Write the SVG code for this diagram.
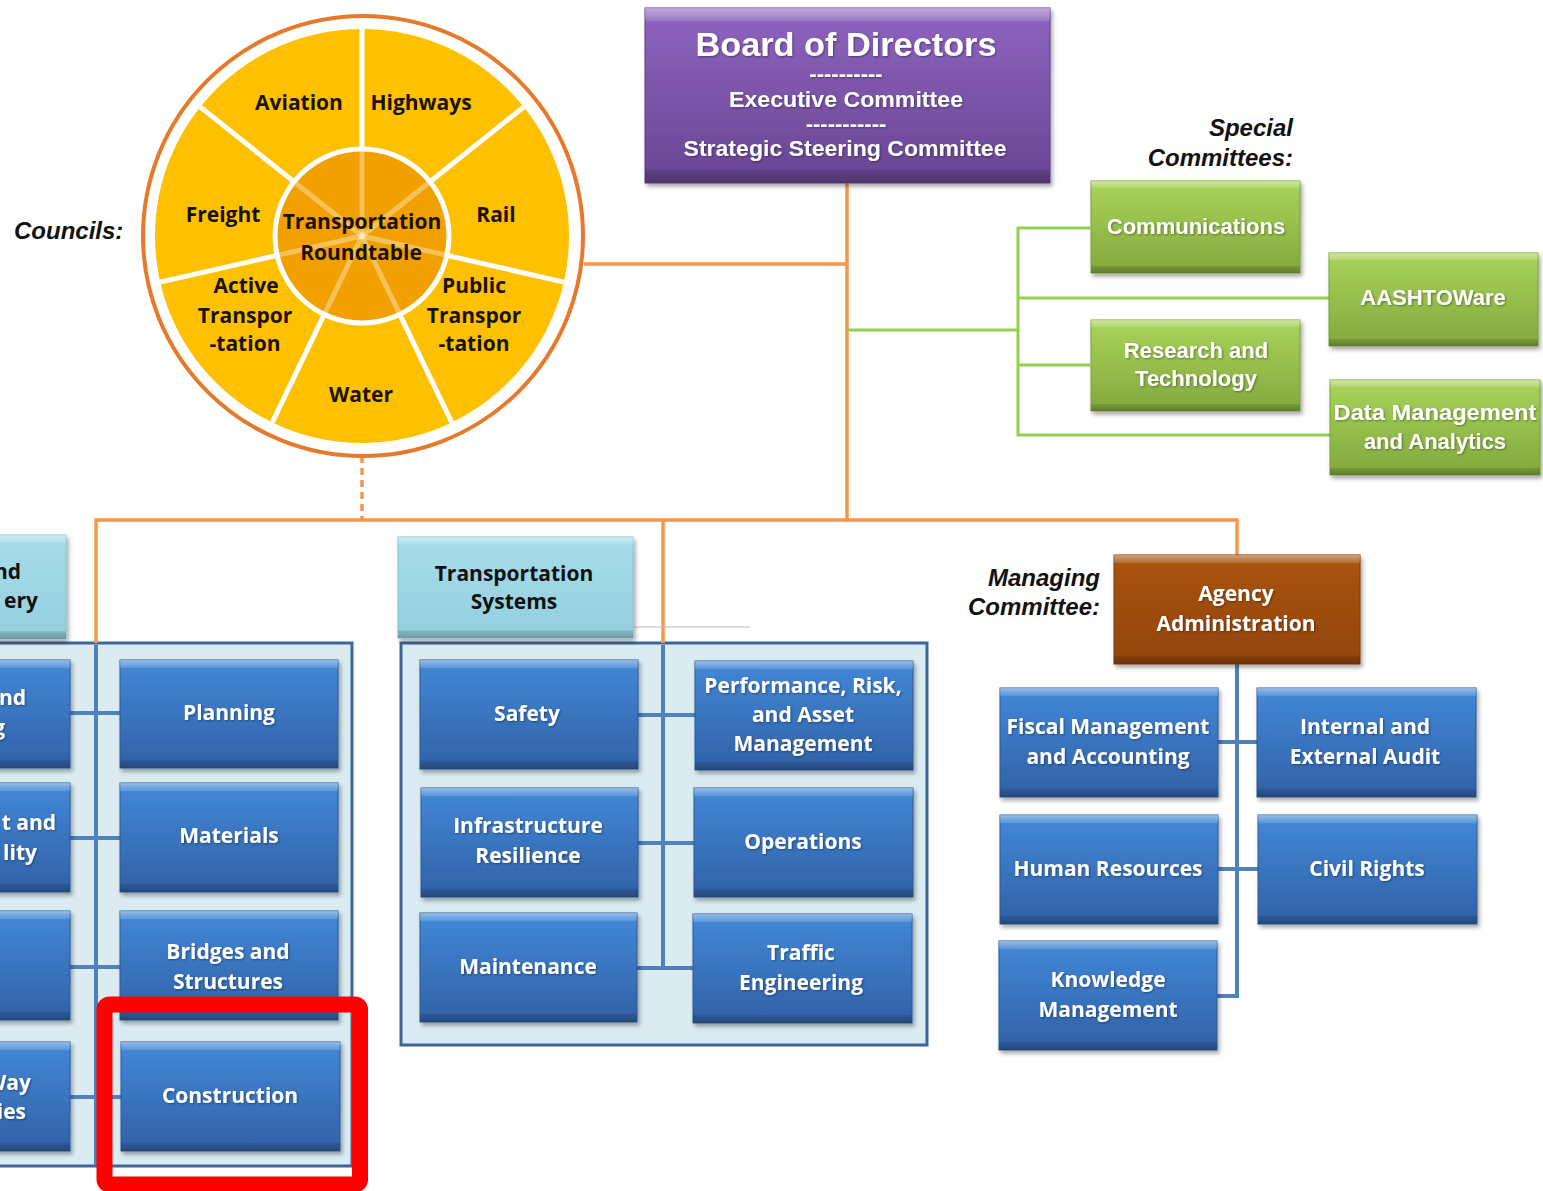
<svg xmlns="http://www.w3.org/2000/svg" width="1543" height="1191" viewBox="0 0 1543 1191">
<defs>
<linearGradient id="gBlue" x1="0" y1="0" x2="0" y2="1"><stop offset="0" stop-color="#4288D8"/><stop offset="1" stop-color="#3161A6"/></linearGradient>
<linearGradient id="gGreen" x1="0" y1="0" x2="0" y2="1"><stop offset="0" stop-color="#A9D45A"/><stop offset="1" stop-color="#83A83E"/></linearGradient>
<linearGradient id="gPurple" x1="0" y1="0" x2="0" y2="1"><stop offset="0" stop-color="#8F64C0"/><stop offset="1" stop-color="#684693"/></linearGradient>
<linearGradient id="gBrown" x1="0" y1="0" x2="0" y2="1"><stop offset="0" stop-color="#AA540F"/><stop offset="1" stop-color="#92450A"/></linearGradient>
<linearGradient id="gLight" x1="0" y1="0" x2="0" y2="1"><stop offset="0" stop-color="#A8DDEB"/><stop offset="1" stop-color="#93CEDD"/></linearGradient>
<linearGradient id="gBevel" x1="0" y1="0" x2="0" y2="1">
<stop offset="0" stop-color="#fff" stop-opacity="0.45"/><stop offset="0.07" stop-color="#fff" stop-opacity="0.15"/><stop offset="0.08" stop-color="#fff" stop-opacity="0"/>
<stop offset="0.92" stop-color="#000" stop-opacity="0"/><stop offset="0.93" stop-color="#000" stop-opacity="0.12"/><stop offset="1" stop-color="#000" stop-opacity="0.25"/>
</linearGradient>
<filter id="sh" x="-10%" y="-10%" width="125%" height="130%"><feDropShadow dx="2" dy="3" stdDeviation="2" flood-color="#000" flood-opacity="0.35"/></filter>
<filter id="tsh" x="-10%" y="-20%" width="120%" height="150%"><feDropShadow dx="1" dy="1" stdDeviation="0.8" flood-color="#000" flood-opacity="0.4"/></filter>
</defs>
<style>
.blue{fill:url(#gBlue);stroke:#2D5A94;stroke-width:1;filter:url(#sh)}
.green{fill:url(#gGreen);stroke:#7A9D3A;stroke-width:1;filter:url(#sh)}
.purple{fill:url(#gPurple);stroke:#5D3F84;stroke-width:1;filter:url(#sh)}
.brown{fill:url(#gBrown);stroke:#7F3B08;stroke-width:1;filter:url(#sh)}
.light{fill:url(#gLight);stroke:#86C2D2;stroke-width:1;filter:url(#sh)}
.bev{fill:url(#gBevel)}
.cont{fill:#DAEBF2;stroke:#3B679C;stroke-width:3}
.bt{font-family:"Open Sans","DejaVu Sans",sans-serif;font-weight:bold;font-size:21px;fill:#fff;text-anchor:middle;filter:url(#tsh)}
.ht{font-family:"Open Sans","DejaVu Sans",sans-serif;font-weight:bold;font-size:21px;fill:#111;text-anchor:middle}
.ct{font-family:"Open Sans","DejaVu Sans",sans-serif;font-weight:bold;font-size:21px;fill:#1a1200;text-anchor:middle}
.gt{font-family:"Liberation Sans",Arial,sans-serif;font-weight:bold;font-size:22px;fill:#fff;text-anchor:middle;filter:url(#tsh)}
.lab{font-family:"Liberation Sans",Arial,sans-serif;font-weight:bold;font-style:italic;font-size:24px;fill:#111}
.or{stroke:#F79646;stroke-width:3.5;fill:none}
.gr{stroke:#92D050;stroke-width:3;fill:none}
.bl{stroke:#4F81BD;stroke-width:4;fill:none}
</style>
<rect width="1543" height="1191" fill="#fff"/>

<!-- containers -->
<rect id="containerLeft" class="cont" x="-10" y="643" width="362" height="523"/>
<rect id="containerMid" class="cont" x="401" y="643" width="526" height="402"/>

<g id="connectors">
<line class="or" x1="847" y1="183" x2="847" y2="522"/>
<line class="or" x1="584" y1="264" x2="847" y2="264"/>
<polyline class="or" points="96,643 96,520 1237,520 1237,555"/>
<line class="or" x1="663" y1="520" x2="663" y2="643"/>
<line class="or" x1="362" y1="456" x2="362" y2="520" stroke-dasharray="7,5"/>
<line x1="633" y1="627" x2="750" y2="627" stroke="#BBBBBB" stroke-width="1.2"/>
<polyline class="gr" points="847,330 1018,330"/>
<polyline class="gr" points="1090,228 1018,228 1018,435 1330,435"/>
<line class="gr" x1="1018" y1="298" x2="1330" y2="298"/>
<line class="gr" x1="1018" y1="365" x2="1090" y2="365"/>
<line class="bl" x1="96" y1="645" x2="96" y2="1165"/>
<line class="bl" x1="70" y1="713" x2="120" y2="713"/>
<line class="bl" x1="70" y1="838" x2="120" y2="838"/>
<line class="bl" x1="70" y1="967" x2="120" y2="967"/>
<line class="bl" x1="70" y1="1097" x2="121" y2="1097"/>
<line class="bl" x1="663" y1="645" x2="663" y2="968"/>
<line class="bl" x1="638" y1="715" x2="695" y2="715"/>
<line class="bl" x1="638" y1="843" x2="694" y2="843"/>
<line class="bl" x1="637" y1="968" x2="693" y2="968"/>
<polyline class="bl" points="1237,664 1237,996 1217,996"/>
<line class="bl" x1="1218" y1="742" x2="1257" y2="742"/>
<line class="bl" x1="1218" y1="869" x2="1258" y2="869"/>
</g>

<!-- councils wheel -->
<g id="councils">
<circle cx="363" cy="236" r="220" fill="#fff" stroke="#E7792B" stroke-width="4"/>
<circle cx="362" cy="236" r="207" fill="#FFC000"/>
<g stroke="#fff" stroke-width="5">
<line x1="362" y1="236" x2="362" y2="29"/>
<line x1="362" y1="236" x2="523.8" y2="106.9"/>
<line x1="362" y1="236" x2="563.8" y2="282.1"/>
<line x1="362" y1="236" x2="451.8" y2="422.5"/>
<line x1="362" y1="236" x2="272.2" y2="422.5"/>
<line x1="362" y1="236" x2="160.2" y2="282.1"/>
<line x1="362" y1="236" x2="200.2" y2="106.9"/>
</g>
<circle cx="362" cy="236" r="87" fill="#F2A000" stroke="#fff" stroke-width="5"/>
<g stroke="#fff" stroke-opacity="0.35" stroke-width="5">
<line x1="362" y1="236" x2="362" y2="151"/>
<line x1="362" y1="236" x2="428.5" y2="183"/>
<line x1="362" y1="236" x2="444.9" y2="254.9"/>
<line x1="362" y1="236" x2="398.9" y2="312.6"/>
<line x1="362" y1="236" x2="325.1" y2="312.6"/>
<line x1="362" y1="236" x2="279.1" y2="254.9"/>
<line x1="362" y1="236" x2="295.5" y2="183"/>
</g>
<text class="ct" x="299" y="110">Aviation</text>
<text class="ct" x="421" y="110">Highways</text>
<text class="ct" x="223" y="222">Freight</text>
<text class="ct" x="496" y="222">Rail</text>
<text class="ct" x="362" y="229">Transportation</text>
<text class="ct" x="361" y="260">Roundtable</text>
<text class="ct" x="246" y="293">Active</text>
<text class="ct" x="245" y="323">Transpor</text>
<text class="ct" x="245" y="351">-tation</text>
<text class="ct" x="474" y="293">Public</text>
<text class="ct" x="474" y="323">Transpor</text>
<text class="ct" x="474" y="351">-tation</text>
<text class="ct" x="361" y="402">Water</text>
</g>
<text id="lblCouncils" class="lab" x="14" y="239">Councils:</text>

<!-- board -->
<g id="board">
<rect class="purple" x="645" y="8" width="405" height="175"/>
<rect class="bev" x="645" y="8" width="405" height="175"/>
<g font-family="'Liberation Sans',Arial,sans-serif" font-weight="bold" fill="#fff" text-anchor="middle" filter="url(#tsh)">
<text x="846" y="56" font-size="34" textLength="301" lengthAdjust="spacingAndGlyphs">Board of Directors</text>
<text x="846" y="81" font-size="22">----------</text>
<text x="846" y="107" font-size="22" textLength="234" lengthAdjust="spacingAndGlyphs">Executive Committee</text>
<text x="846" y="131" font-size="22">-----------</text>
<text x="845" y="156" font-size="22" textLength="323" lengthAdjust="spacingAndGlyphs">Strategic Steering Committee</text>
</g>
</g>

<!-- special committees -->
<text id="lblSpecial" class="lab" text-anchor="end"><tspan x="1293" y="136">Special</tspan><tspan x="1293" y="166">Committees:</tspan></text>
<g id="communications"><rect class="green" x="1091" y="181" width="209" height="92"/><rect class="bev" x="1091" y="181" width="209" height="92"/><text class="gt" x="1196" y="234">Communications</text></g>
<g id="aashtoware"><rect class="green" x="1329" y="253" width="209" height="93"/><rect class="bev" x="1329" y="253" width="209" height="93"/><text class="gt" x="1433" y="305">AASHTOWare</text></g>
<g id="research"><rect class="green" x="1091" y="320" width="209" height="91"/><rect class="bev" x="1091" y="320" width="209" height="91"/><text class="gt" x="1196" y="358">Research and</text><text class="gt" x="1196" y="386">Technology</text></g>
<g id="datamgmt"><rect class="green" x="1330" y="380" width="210" height="95"/><rect class="bev" x="1330" y="380" width="210" height="95"/><text class="gt" x="1435" y="420" textLength="203" lengthAdjust="spacingAndGlyphs">Data Management</text><text class="gt" x="1435" y="449">and Analytics</text></g>

<!-- left (cut-off) column -->
<g id="hdrLeft"><rect class="light" x="-20" y="535" width="86" height="104"/><rect class="bev" x="-20" y="535" width="86" height="104"/><text class="ht" text-anchor="end" style="text-anchor:end" x="21" y="579">nd</text><text class="ht" style="text-anchor:end" x="38" y="608">ery</text></g>
<g id="left1"><rect class="blue" x="-20" y="660" width="90" height="108"/><rect class="bev" x="-20" y="660" width="90" height="108"/><text class="bt" style="text-anchor:end" x="26" y="705">nd</text><text class="bt" style="text-anchor:end" x="5" y="735">g</text></g>
<g id="left2"><rect class="blue" x="-20" y="783" width="90" height="109"/><rect class="bev" x="-20" y="783" width="90" height="109"/><text class="bt" style="text-anchor:end" x="56" y="830">t and</text><text class="bt" style="text-anchor:end" x="37" y="860">lity</text></g>
<g id="left3"><rect class="blue" x="-20" y="911" width="90" height="109"/><rect class="bev" x="-20" y="911" width="90" height="109"/></g>
<g id="left4"><rect class="blue" x="-20" y="1042" width="90" height="109"/><rect class="bev" x="-20" y="1042" width="90" height="109"/><text class="bt" style="text-anchor:end" x="31" y="1090">Way</text><text class="bt" style="text-anchor:end" x="26" y="1119">ies</text></g>

<g id="planning"><rect class="blue" x="120" y="660" width="218" height="108"/><rect class="bev" x="120" y="660" width="218" height="108"/><text class="bt" x="229" y="720">Planning</text></g>
<g id="materials"><rect class="blue" x="120" y="783" width="218" height="109"/><rect class="bev" x="120" y="783" width="218" height="109"/><text class="bt" x="229" y="843">Materials</text></g>
<g id="bridges"><rect class="blue" x="120" y="911" width="218" height="109"/><rect class="bev" x="120" y="911" width="218" height="109"/><text class="bt" x="228" y="959">Bridges and</text><text class="bt" x="228" y="989">Structures</text></g>
<g id="construction"><rect class="blue" x="121" y="1042" width="219" height="109"/><rect class="bev" x="121" y="1042" width="219" height="109"/><text class="bt" x="230" y="1103">Construction</text></g>

<!-- transportation systems -->
<g id="hdrTransSys"><rect class="light" x="398" y="537" width="235" height="101"/><rect class="bev" x="398" y="537" width="235" height="101"/><text class="ht" x="514" y="581">Transportation</text><text class="ht" x="514" y="609">Systems</text></g>
<g id="safety"><rect class="blue" x="420" y="660" width="218" height="109"/><rect class="bev" x="420" y="660" width="218" height="109"/><text class="bt" x="527" y="721">Safety</text></g>
<g id="performance"><rect class="blue" x="695" y="661" width="218" height="109"/><rect class="bev" x="695" y="661" width="218" height="109"/><text class="bt" x="803" y="693">Performance, Risk,</text><text class="bt" x="803" y="722">and Asset</text><text class="bt" x="803" y="751">Management</text></g>
<g id="infrastructure"><rect class="blue" x="421" y="788" width="217" height="109"/><rect class="bev" x="421" y="788" width="217" height="109"/><text class="bt" x="528" y="833">Infrastructure</text><text class="bt" x="528" y="863">Resilience</text></g>
<g id="operations"><rect class="blue" x="694" y="788" width="219" height="109"/><rect class="bev" x="694" y="788" width="219" height="109"/><text class="bt" x="803" y="849">Operations</text></g>
<g id="maintenance"><rect class="blue" x="420" y="913" width="217" height="109"/><rect class="bev" x="420" y="913" width="217" height="109"/><text class="bt" x="528" y="974">Maintenance</text></g>
<g id="traffic"><rect class="blue" x="693" y="914" width="219" height="109"/><rect class="bev" x="693" y="914" width="219" height="109"/><text class="bt" x="801" y="960">Traffic</text><text class="bt" x="801" y="990">Engineering</text></g>

<!-- agency administration -->
<text id="lblManaging" class="lab" text-anchor="end"><tspan x="1100" y="586">Managing</tspan><tspan x="1100" y="615">Committee:</tspan></text>
<g id="agency"><rect class="brown" x="1114" y="555" width="246" height="109"/><rect class="bev" x="1114" y="555" width="246" height="109"/><text class="bt" x="1236" y="601">Agency</text><text class="bt" x="1236" y="631">Administration</text></g>
<g id="fiscal"><rect class="blue" x="1000" y="688" width="218" height="109"/><rect class="bev" x="1000" y="688" width="218" height="109"/><text class="bt" x="1108" y="734">Fiscal Management</text><text class="bt" x="1108" y="764">and Accounting</text></g>
<g id="audit"><rect class="blue" x="1257" y="688" width="219" height="109"/><rect class="bev" x="1257" y="688" width="219" height="109"/><text class="bt" x="1365" y="734">Internal and</text><text class="bt" x="1365" y="764">External Audit</text></g>
<g id="hr"><rect class="blue" x="1000" y="815" width="218" height="109"/><rect class="bev" x="1000" y="815" width="218" height="109"/><text class="bt" x="1108" y="876">Human Resources</text></g>
<g id="civil"><rect class="blue" x="1258" y="815" width="219" height="109"/><rect class="bev" x="1258" y="815" width="219" height="109"/><text class="bt" x="1367" y="876">Civil Rights</text></g>
<g id="knowledge"><rect class="blue" x="999" y="941" width="218" height="109"/><rect class="bev" x="999" y="941" width="218" height="109"/><text class="bt" x="1108" y="987">Knowledge</text><text class="bt" x="1108" y="1017">Management</text></g>

<!-- highlight -->
<rect id="highlight" x="104.5" y="1004.5" width="255.5" height="180" rx="5" fill="none" stroke="#FF0000" stroke-width="16"/>
</svg>
